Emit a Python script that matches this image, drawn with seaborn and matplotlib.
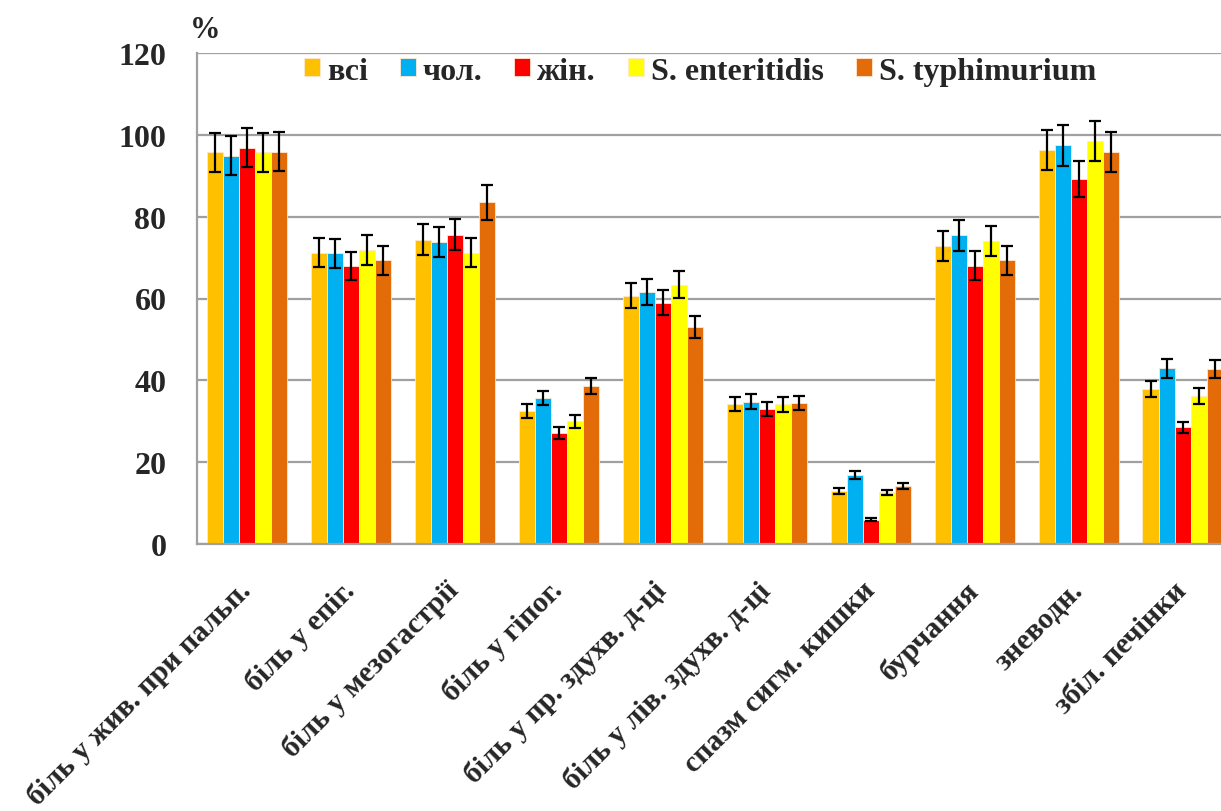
import numpy as np
import pandas as pd
import matplotlib
matplotlib.use("Agg")
import matplotlib.pyplot as plt
import seaborn as sns

categories = ["біль у жив. при пальп.", "біль у епіг.", "біль у мезогастрії", "біль у гіпог.",
              "біль у пр. здухв. д-ці", "біль у лів. здухв. д-ці", "спазм сигм. кишки",
              "бурчання", "зневодн.", "збіл. печінки"]
groups = ["всі", "чол.", "жін.", "S. enteritidis", "S. typhimurium"]
colors = ["#FFC000", "#00B0F0", "#FF0000", "#FFFF00", "#E36C09"]

vals_all = [95.7, 71.2, 74.4, 32.5, 60.7, 34.2, 13.0, 72.9, 96.3, 37.9]
vals_men = [94.9, 71.0, 73.8, 35.7, 61.6, 34.8, 16.9, 75.5, 97.5, 42.9]
vals_women = [96.9, 68.0, 75.6, 27.1, 59.0, 33.1, 5.9, 68.0, 89.2, 28.5]
vals_ent = [95.7, 71.9, 71.2, 30.0, 63.4, 34.1, 12.6, 74.1, 98.5, 36.2]
vals_typh = [95.9, 69.3, 83.5, 38.6, 53.0, 34.5, 14.1, 69.3, 95.8, 42.7]

err_all = [4.7, 3.5, 3.75, 1.75, 3.1, 1.75, 0.75, 3.7, 4.85, 1.95]
err_men = [4.7, 3.6, 3.7, 1.8, 3.1, 1.75, 0.9, 3.8, 5.0, 2.25]
err_women = [4.8, 3.4, 3.8, 1.5, 3.0, 1.7, 0.4, 3.5, 4.5, 1.4]
err_ent = [4.8, 3.6, 3.5, 1.55, 3.3, 1.8, 0.7, 3.7, 4.95, 1.9]
err_typh = [4.7, 3.5, 4.2, 2.0, 2.7, 1.75, 0.7, 3.5, 4.85, 2.2]

series_vals = [vals_all, vals_men, vals_women, vals_ent, vals_typh]
series_errs = [err_all, err_men, err_women, err_ent, err_typh]

rows = []
for g, vals in zip(groups, series_vals):
    for c, v in zip(categories, vals):
        rows.append({"cat": c, "grp": g, "val": v})
df = pd.DataFrame(rows)

sns.set_theme(style="white")
plt.rcParams['font.family'] = ['Liberation Serif', 'DejaVu Serif']
plt.rcParams['font.weight'] = 'bold'

W, H = 1221, 812
fig = plt.figure(figsize=(W / 100, H / 100), dpi=100)
ax = fig.add_axes([197 / W, 1 - 545 / H, (1221 - 197) / W, (545 - 54) / H])

sns.barplot(data=df, x="cat", y="val", hue="grp", order=categories, hue_order=groups,
            palette=colors, saturation=1, width=0.77, gap=0, errorbar=None,
            edgecolor="#FFE8D0", linewidth=0.6, ax=ax)

for cont, errs in zip(ax.containers, series_errs):
    xs = [b.get_x() + b.get_width() / 2 for b in cont]
    hs = [b.get_height() for b in cont]
    ax.errorbar(xs, hs, yerr=errs, fmt="none", ecolor="black", elinewidth=1.6,
                capsize=4.6, capthick=1.6, zorder=5)

ax.set_ylim(0, 120)
ax.set_xlim(-0.478, 9.37)
ax.set_yticks(np.arange(0, 121, 20))
ax.set_yticklabels([str(v) for v in range(0, 121, 20)], fontsize=23, fontweight="bold")
ax.set_xticks(range(len(categories)))
ax.set_xticklabels(categories, rotation=45, ha="right", va="center",
                   rotation_mode="anchor", fontsize=21.5, fontweight="bold")
ax.yaxis.grid(True, color="#A0A0A0", linewidth=1.6)
ax.set_axisbelow(True)
for s in ["top", "right"]:
    ax.spines[s].set_visible(False)
for s in ["left", "bottom"]:
    ax.spines[s].set_color("#A0A0A0")
    ax.spines[s].set_linewidth(1.6)
ax.set_xlabel("")
ax.set_ylabel("")
ax.tick_params(axis="y", length=0, pad=22)
ax.tick_params(axis="x", length=0, pad=30)

handles, labels = ax.get_legend_handles_labels()
ax.legend(handles, labels, loc="center", bbox_to_anchor=(0.491, 0.963), ncol=5,
          frameon=False, prop={"weight": "bold", "size": 23}, handlelength=0.5,
          handleheight=0.5, handletextpad=0.22, columnspacing=1.0)

fig.text(190 / W, 1 - 31 / H, "%", fontsize=22, fontweight="bold", va="center", ha="left")

fig.savefig("out.png", dpi=100)
